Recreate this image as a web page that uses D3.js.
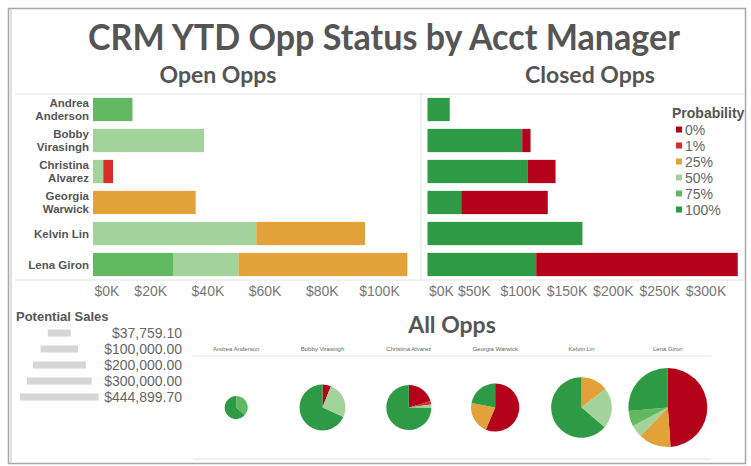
<!DOCTYPE html>
<html><head><meta charset="utf-8">
<script src="https://cdn.jsdelivr.net/npm/d3@7"></script>
<style>
html,body{margin:0;padding:0;background:#fff;}
svg{display:block;}
</style></head>
<body>
<svg id="c" width="751" height="466"></svg>
<script>
// ---------- data ----------
const managers = ["Andrea Anderson", "Bobby Virasingh", "Christina Alvarez", "Georgia Warwick", "Kelvin Lin", "Lena Giron"];
const probabilities = ["0%", "1%", "25%", "50%", "75%", "100%"];
const probColors = ["#b5021b", "#d92b2b", "#e3a13a", "#a2d39b", "#62b962", "#2f9a45"];
// Open opportunities (in $K) by probability, per manager
const open0   = [0, 0, 0, 0, 0, 0];
const open1   = [0, 0, 3.4, 0, 0, 0];
const open25  = [0, 0, 0, 35.9, 38.0, 59.0];
const open50  = [0, 38.8, 3.6, 0, 57.1, 22.7];
const open75  = [13.8, 0, 0, 0, 0, 28.2];
const open100 = [0, 0, 0, 0, 0, 0];
// Closed opportunities (in $K)
const closed0   = [0, 9.0, 29.9, 93.4, 0, 217.5];
const closed1   = [0, 0, 0, 0, 0, 0];
const closed25  = [0, 0, 0, 0, 0, 0];
const closed50  = [0, 0, 0, 0, 0, 0];
const closed75  = [0, 0, 0, 0, 0, 0];
const closed100 = [24.0, 102.2, 108.3, 36.4, 167.2, 117.3];
const openTicks = [0, 20, 40, 60, 80, 100];
const closedTicks = [0, 50, 100, 150, 200, 250, 300];
const sizeLegendValues = [37759.10, 100000, 200000, 300000, 444899.70];

// ---------- setup ----------
const svg = d3.select("#c");
const openSeries = [open0, open1, open25, open50, open75, open100];
const closedSeries = [closed0, closed1, closed25, closed50, closed75, closed100];
const color = d3.scaleOrdinal().domain(probabilities).range(probColors);
const FONT = "'Liberation Sans', Arial, sans-serif";
const TFONT = "Lato, 'Open Sans', sans-serif";

// frame
svg.append("rect").attr("x", 0).attr("y", 0).attr("width", 751).attr("height", 466).attr("fill", "#fff");
svg.append("rect").attr("x", 8.5).attr("y", 8.5).attr("width", 737).attr("height", 455)
  .attr("fill", "none").attr("stroke", "#a8a8a8").attr("stroke-width", 1.5);
svg.append("line").attr("x1", 11).attr("x2", 11).attr("y1", 9).attr("y2", 463).attr("stroke", "#c4c4c4").attr("stroke-width", 1);

// titles
svg.append("text").attr("x", 384).attr("y", 50).attr("text-anchor", "middle")
  .attr("font-family", TFONT).attr("font-size", 36).attr("font-weight", 700).attr("fill", "#555")
  .attr("textLength", 592).attr("lengthAdjust", "spacingAndGlyphs")
  .text("CRM YTD Opp Status by Acct Manager");
svg.append("text").attr("x", 218).attr("y", 83).attr("text-anchor", "middle")
  .attr("font-family", TFONT).attr("font-size", 23).attr("font-weight", 700).attr("fill", "#555")
  .text("Open Opps");
svg.append("text").attr("x", 590).attr("y", 83).attr("text-anchor", "middle")
  .attr("font-family", TFONT).attr("font-size", 23).attr("font-weight", 700).attr("fill", "#555")
  .text("Closed Opps");

// grid separators
const sepColor = "#e4e4e4";
svg.append("line").attr("x1", 15).attr("x2", 745).attr("y1", 94).attr("y2", 94).attr("stroke", sepColor);
svg.append("line").attr("x1", 15).attr("x2", 745).attr("y1", 280).attr("y2", 280).attr("stroke", sepColor);
svg.append("line").attr("x1", 421).attr("x2", 421).attr("y1", 94).attr("y2", 280).attr("stroke", sepColor);

// y band
const y = d3.scaleBand().domain(managers).range([94, 280]).paddingInner(0.25).paddingOuter(0.125);

// name labels
const nameG = svg.append("g");
managers.forEach(m => {
  const lines = m.length > 10 ? m.split(" ") : [m];
  const cy = y(m) + y.bandwidth() / 2;
  const t = nameG.append("text").attr("text-anchor", "end").attr("font-family", FONT)
    .attr("font-size", 11.5).attr("font-weight", 700).attr("fill", "#555");
  lines.forEach((l, i) => {
    t.append("tspan").attr("x", 89).attr("y", cy + 4 + (i - (lines.length - 1) / 2) * 13.5).text(l);
  });
});

function stackedBars(series, x, order) {
  const g = svg.append("g");
  managers.forEach((m, mi) => {
    let acc = 0;
    order.forEach(pi => {
      const v = series[pi][mi];
      if (v > 0) {
        g.append("rect").attr("x", x(acc)).attr("y", y(m))
          .attr("width", x(acc + v) - x(acc)).attr("height", y.bandwidth())
          .attr("fill", color(probabilities[pi]));
        acc += v;
      }
    });
  });
}
const stackOrder = [5, 4, 3, 2, 1, 0];

// open chart
const xOpen = d3.scaleLinear().domain([0, 100]).range([93, 379]);
stackedBars(openSeries, xOpen, stackOrder);
const xAxisOpen = d3.axisBottom(xOpen).tickValues(openTicks).tickFormat(d => "$" + d + "K").tickSize(0);
const gxo = svg.append("g").attr("transform", "translate(0,286)").call(xAxisOpen);
// closed chart
const xClosed = d3.scaleLinear().domain([0, 300]).range([427.5, 705.5]);
stackedBars(closedSeries, xClosed, stackOrder);
const xAxisClosed = d3.axisBottom(xClosed).tickValues(closedTicks).tickFormat(d => "$" + d + "K").tickSize(0);
const gxc = svg.append("g").attr("transform", "translate(0,286)").call(xAxisClosed);
[gxo, gxc].forEach(g => {
  g.select(".domain").remove();
  g.selectAll("text").attr("font-family", FONT).attr("font-size", 14).attr("fill", "#777").attr("dy", "0.71em").attr("y", 0);
  g.selectAll(".tick").filter(d => d === 0).select("text").attr("text-anchor", "start").attr("x", 1);
});

// probability legend
const lg = svg.append("g").attr("transform", "translate(672,0)");
lg.append("text").attr("x", 0).attr("y", 118).attr("font-family", FONT).attr("font-size", 14)
  .attr("font-weight", 700).attr("fill", "#555").text("Probability");
probabilities.forEach((p, i) => {
  const cy = 129.5 + i * 16;
  lg.append("rect").attr("x", 4).attr("y", cy - 3).attr("width", 6).attr("height", 6).attr("fill", color(p));
  lg.append("text").attr("x", 13).attr("y", cy + 5).attr("font-family", FONT).attr("font-size", 14)
    .attr("fill", "#666").text(p);
});

// potential sales (size legend)
const rScale = d3.scaleSqrt().domain([0, 444899.70]).range([0, 39.5]);
svg.append("text").attr("x", 16).attr("y", 321).attr("font-family", FONT).attr("font-size", 13)
  .attr("font-weight", 700).attr("fill", "#555").text("Potential Sales");
sizeLegendValues.forEach((v, i) => {
  const cy = 333 + i * 16;
  const w = rScale(v) * 2;
  svg.append("rect").attr("x", 59.3 - w / 2).attr("y", cy - 3.5).attr("width", w).attr("height", 7).attr("fill", "#d6d6d6");
  svg.append("text").attr("x", 182).attr("y", cy + 5).attr("text-anchor", "end").attr("font-family", FONT)
    .attr("font-size", 14).attr("fill", "#666").text(d3.format("$,.2f")(v));
});

// All Opps pies
svg.append("text").attr("x", 452).attr("y", 333).attr("text-anchor", "middle")
  .attr("font-family", TFONT).attr("font-size", 23).attr("font-weight", 700).attr("fill", "#555").text("All Opps");
const xPie = d3.scaleBand().domain(managers).range([193, 711]);
svg.append("line").attr("x1", 193).attr("x2", 711).attr("y1", 356).attr("y2", 356).attr("stroke", sepColor);
svg.append("line").attr("x1", 193).attr("x2", 711).attr("y1", 459).attr("y2", 459).attr("stroke", sepColor);
const pie = d3.pie().sort(null).value(d => d.v);
managers.forEach((m, mi) => {
  const cx = xPie(m) + xPie.bandwidth() / 2;
  svg.append("text").attr("x", cx).attr("y", 351).attr("text-anchor", "middle").attr("font-family", FONT)
    .attr("font-size", 6).attr("fill", "#666").text(m);
  const vals = probabilities.map((p, pi) => ({p, v: (openSeries[pi][mi] + closedSeries[pi][mi]) * 1000}));
  const total = d3.sum(vals, d => d.v);
  const arc = d3.arc().innerRadius(0).outerRadius(rScale(total));
  svg.append("g").attr("transform", `translate(${cx},407.5)`)
    .selectAll("path").data(pie(vals)).join("path")
    .attr("d", arc).attr("fill", d => color(d.data.p));
});
</script>
</body></html>
